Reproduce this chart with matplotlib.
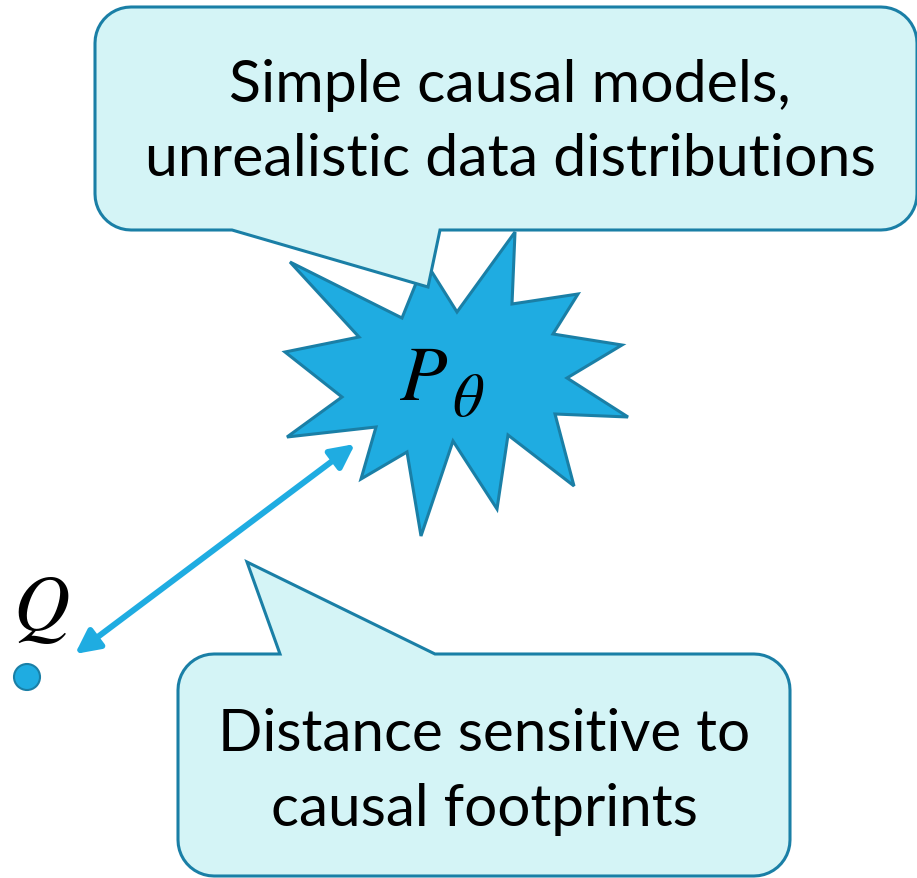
import numpy as np
import matplotlib.pyplot as plt
from matplotlib.patches import Polygon, Circle, FancyArrowPatch

plt.rcParams['mathtext.fontset'] = 'stix'

# -------------------------------
# SHAPES (pixel coordinates, y downwards)
# -------------------------------

# starburst around P_theta
burst_x = [290, 402, 425, 457, 515, 512, 578, 553, 622, 567, 628, 555,
           574, 508, 497, 453, 421, 407, 361, 376, 287, 342, 285, 359]
burst_y = [263, 319, 262, 313, 233, 305, 295, 335, 346, 379, 418, 415,
           487, 436, 510, 442, 537, 453, 480, 428, 438, 398, 353, 338]

# callout boxes: left, top, right, bottom, tail (base1, tip, base2)
top_box = [95, 8, 917, 231]
top_tail = [(440, 231), (428, 288), (232, 231)]
top_lines = ["Simple causal models,", "unrealistic data distributions"]

bottom_box = [178, 655, 790, 877]
bottom_tail = [(280, 655), (247, 563), (435, 655)]
bottom_lines = ["Distance sensitive to", "causal footprints"]

q_point = (27, 678)
arrow_ends = [(75, 655), (355, 445)]

fill_dark = '#1FACE1'
edge_dark = '#1A7FA6'
fill_light = '#D4F4F6'


def arc(cx, cy, r, a0, a1, n=12):
    t = np.radians(np.linspace(a0, a1, n))
    return list(zip(cx + r * np.cos(t), cy + r * np.sin(t)))


def callout(box, tail, side, r=36):
    x0, y0, x1, y1 = box
    pts = []
    pts += arc(x0 + r, y0 + r, r, 180, 270)
    if side == 'top':
        pts += tail
    pts += arc(x1 - r, y0 + r, r, 270, 360)
    pts += arc(x1 - r, y1 - r, r, 0, 90)
    if side == 'bottom':
        pts += tail
    pts += arc(x0 + r, y1 - r, r, 90, 180)
    return pts


fig = plt.figure(figsize=(9.17, 8.79), dpi=100)
ax = fig.add_axes([0, 0, 1, 1])
ax.set_xlim(0, 917)
ax.set_ylim(879, 0)
ax.axis('off')

ax.add_patch(Polygon(list(zip(burst_x, burst_y)), closed=True,
                     facecolor=fill_dark, edgecolor=edge_dark, lw=2.2, zorder=2))
ax.text(424, 378, r'$P$', fontsize=56, ha='center', va='center', zorder=3)
ax.text(468, 400, r'$\theta$', fontsize=44, ha='center', va='center', zorder=3)

ax.add_patch(Polygon(callout(top_box, top_tail, 'bottom'), closed=True,
                     facecolor=fill_light, edgecolor=edge_dark, lw=2.2, zorder=4))
ax.add_patch(Polygon(callout(bottom_box, bottom_tail, 'top'), closed=True,
                     facecolor=fill_light, edgecolor=edge_dark, lw=2.2, zorder=4))

for i, line in enumerate(top_lines):
    ax.text(510, 85 + i * 75, line, fontsize=42.5, family='Lato',
            ha='center', va='center', zorder=5)
for i, line in enumerate(bottom_lines):
    ax.text(484, 735 + i * 75, line, fontsize=42, family='Lato',
            ha='center', va='center', zorder=5)

ax.add_patch(FancyArrowPatch(arrow_ends[0], arrow_ends[1], arrowstyle='<|-|>',
                             mutation_scale=36, color=fill_dark, lw=4.3,
                             shrinkA=0, shrinkB=0, zorder=3))

ax.add_patch(Circle(q_point, 13, facecolor=fill_dark, edgecolor=edge_dark,
                    lw=1.5, zorder=3))
ax.text(41, 608, r'$Q$', fontsize=56, ha='center', va='center', zorder=3)

fig.savefig('out.png', dpi=100)
